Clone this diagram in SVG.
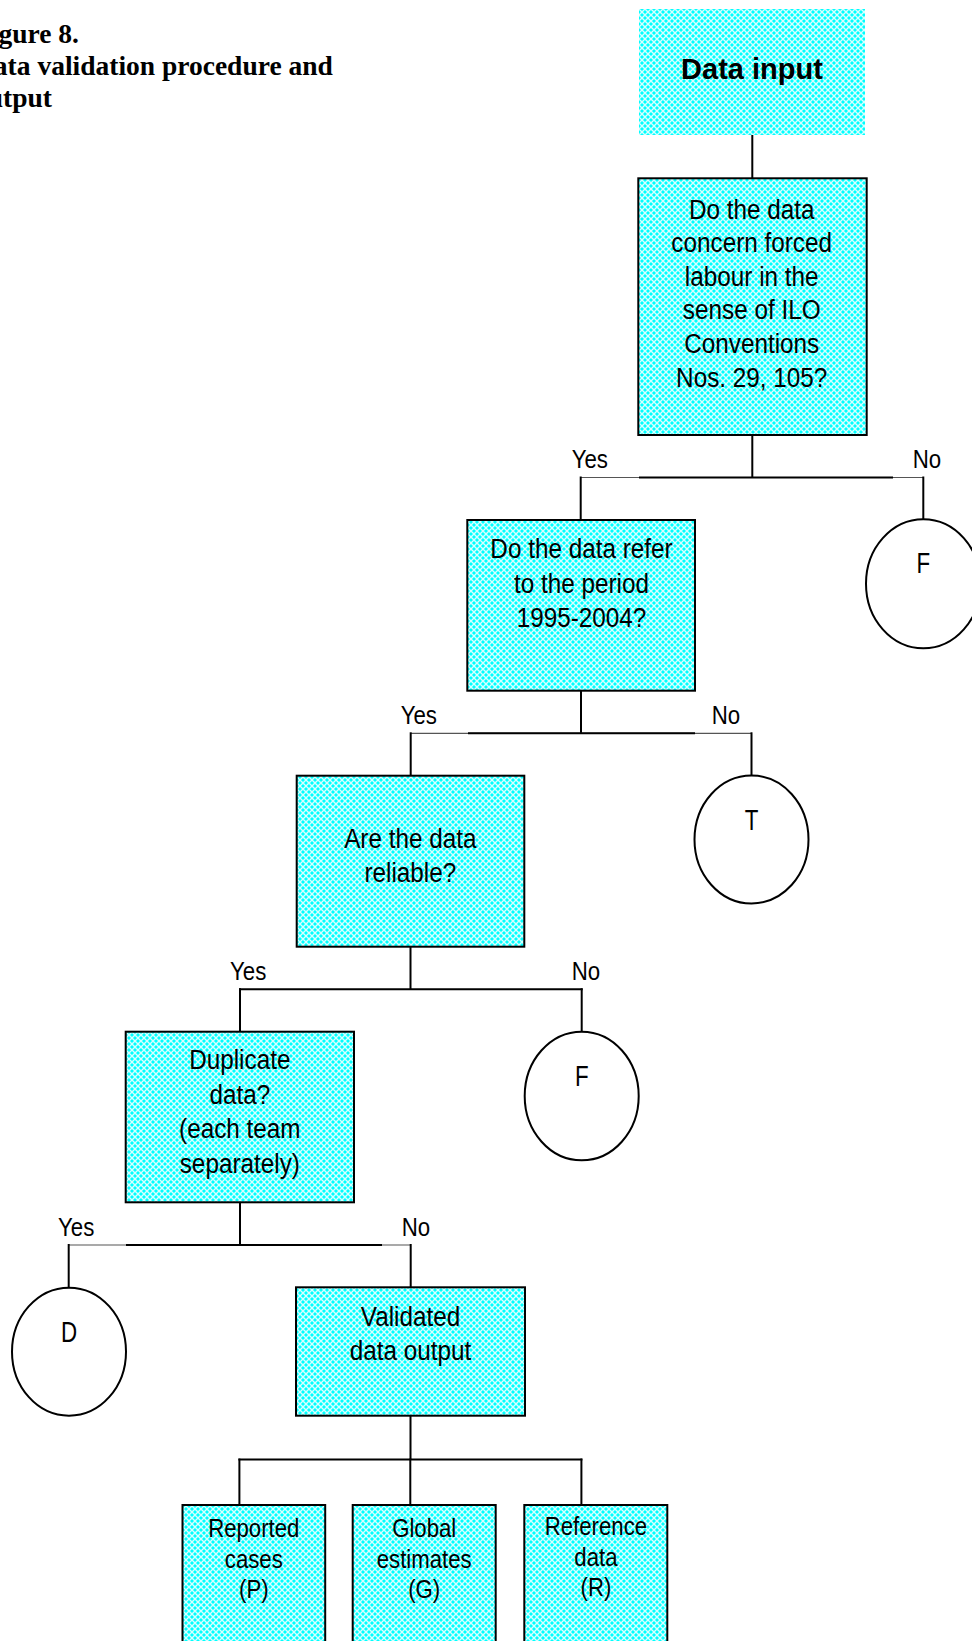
<svg xmlns="http://www.w3.org/2000/svg" width="972" height="1641" viewBox="0 0 972 1641">
<style>
.t{font-family:"Liberation Sans",Arial,sans-serif;font-size:27px;fill:#000;text-anchor:middle}
.s{font-family:"Liberation Sans",Arial,sans-serif;font-size:25.5px;fill:#000;text-anchor:middle}
.l{font-family:"Liberation Sans",Arial,sans-serif;font-size:25px;fill:#000}
.c{font-family:"Liberation Sans",Arial,sans-serif;font-size:29px;fill:#000;text-anchor:middle}
.title{font-family:"Liberation Serif","Times New Roman",serif;font-size:27.5px;font-weight:bold;fill:#000}
.box{fill:url(#hatch);stroke:#000;stroke-width:2}
.circ{fill:#fff;stroke:#000;stroke-width:2}
.k{stroke:#000;stroke-width:2;fill:none}
.thin{stroke:#555;stroke-width:1.2;fill:none}
</style>
<defs>
<pattern id="hatch" patternUnits="userSpaceOnUse" width="6" height="6">
<rect width="6" height="6" fill="#00FFFF"/>
<path d="M0,0 L6,6 M6,0 L0,6" stroke="#ffffff" stroke-width="1.4" stroke-opacity="0.85"/>
</pattern>
</defs>
<rect width="972" height="1641" fill="#fff"/>
<g id="title">
<text class="title" x="-26" y="43.3">Figure 8.</text>
<text class="title" x="-26" y="75">Data validation procedure and</text>
<text class="title" x="-26" y="107.3">output</text>
</g>
<g id="connectors">
<line class="k" x1="752.3" y1="135" x2="752.3" y2="178.3"/>
<line class="k" x1="752.3" y1="435" x2="752.3" y2="477.5"/>
<line class="thin" x1="580.7" y1="477.5" x2="923.3" y2="477.5"/>
<line class="k" x1="639" y1="477.5" x2="893" y2="477.5"/>
<line class="k" x1="580.7" y1="476.5" x2="580.7" y2="520"/>
<line class="k" x1="923.3" y1="476.5" x2="923.3" y2="519.3"/>
<line class="k" x1="581" y1="690.7" x2="581" y2="733.3"/>
<line class="thin" x1="410.7" y1="733.3" x2="751.5" y2="733.3"/>
<line class="k" x1="468" y1="733.3" x2="695" y2="733.3"/>
<line class="k" x1="410.7" y1="732.3" x2="410.7" y2="775.7"/>
<line class="k" x1="751.5" y1="732.3" x2="751.5" y2="775.5"/>
<line class="k" x1="410.5" y1="946.7" x2="410.5" y2="989.3"/>
<line class="k" x1="239" y1="989.3" x2="582.7" y2="989.3"/>
<line class="k" x1="240" y1="988.3" x2="240" y2="1031.7"/>
<line class="k" x1="581.7" y1="988.3" x2="581.7" y2="1031.7"/>
<line class="k" x1="240" y1="1202.3" x2="240" y2="1245"/>
<line class="thin" x1="68.7" y1="1245" x2="410.7" y2="1245"/>
<line class="k" x1="126" y1="1245" x2="382" y2="1245"/>
<line class="k" x1="68.7" y1="1244" x2="68.7" y2="1287.7"/>
<line class="k" x1="410.7" y1="1244" x2="410.7" y2="1287.3"/>
<line class="k" x1="410.5" y1="1415.7" x2="410.5" y2="1459.6"/>
<line class="k" x1="238.4" y1="1459.6" x2="582.4" y2="1459.6"/>
<line class="k" x1="239.4" y1="1458.6" x2="239.4" y2="1505"/>
<line class="k" x1="410.3" y1="1458.6" x2="410.3" y2="1505"/>
<line class="k" x1="581.4" y1="1458.6" x2="581.4" y2="1505"/>
</g>
<g id="labels">
<text class="l" transform="translate(571.7,468) scale(0.89,1)">Yes</text>
<text class="l" transform="translate(912.7,468) scale(0.89,1)">No</text>
<text class="l" transform="translate(400.7,724.3) scale(0.89,1)">Yes</text>
<text class="l" transform="translate(711.8,724.3) scale(0.89,1)">No</text>
<text class="l" transform="translate(230,980) scale(0.89,1)">Yes</text>
<text class="l" transform="translate(571.7,980) scale(0.89,1)">No</text>
<text class="l" transform="translate(58,1235.7) scale(0.89,1)">Yes</text>
<text class="l" transform="translate(401.7,1235.5) scale(0.89,1)">No</text>
</g>
<g id="data-input">
<rect x="639" y="9" width="226" height="126" fill="url(#hatch)"/>
<text x="752" y="79" font-family="Liberation Sans, Arial, sans-serif" font-size="29" font-weight="bold" text-anchor="middle">Data input</text>
</g>
<g id="q1">
<rect class="box" x="638.3" y="178.3" width="228.4" height="256.7"/>
<text class="t" transform="translate(751.7,218.5) scale(0.9,1)">Do the data</text>
<text class="t" transform="translate(751.7,252.1) scale(0.9,1)">concern forced</text>
<text class="t" transform="translate(751.7,285.7) scale(0.9,1)">labour in the</text>
<text class="t" transform="translate(751.7,319.3) scale(0.9,1)">sense of ILO</text>
<text class="t" transform="translate(751.7,352.9) scale(0.9,1)">Conventions</text>
<text class="t" transform="translate(751.7,386.5) scale(0.9,1)">Nos. 29, 105?</text>
</g>
<g id="f1">
<ellipse class="circ" cx="923.3" cy="583.8" rx="57.3" ry="64.5"/>
<text class="c" transform="translate(923.3,573) scale(0.77,1)">F</text>
</g>
<g id="q2">
<rect class="box" x="467.3" y="520" width="227.7" height="170.7"/>
<text class="t" transform="translate(581.5,558.3) scale(0.9,1)">Do the data refer</text>
<text class="t" transform="translate(581.5,592.7) scale(0.9,1)">to the period</text>
<text class="t" transform="translate(581.5,626.7) scale(0.9,1)">1995-2004?</text>
</g>
<g id="t1">
<ellipse class="circ" cx="751.5" cy="839.5" rx="57" ry="64"/>
<text class="c" transform="translate(751.5,829.5) scale(0.77,1)">T</text>
</g>
<g id="q3">
<rect class="box" x="296.7" y="775.7" width="227.6" height="171"/>
<text class="t" transform="translate(410.3,848.3) scale(0.9,1)">Are the data</text>
<text class="t" transform="translate(410.3,881.7) scale(0.9,1)">reliable?</text>
</g>
<g id="f2">
<ellipse class="circ" cx="581.7" cy="1096" rx="57" ry="64.3"/>
<text class="c" transform="translate(581.7,1085.7) scale(0.77,1)">F</text>
</g>
<g id="q4">
<rect class="box" x="125.7" y="1031.7" width="228.3" height="170.6"/>
<text class="t" transform="translate(239.8,1069.3) scale(0.9,1)">Duplicate</text>
<text class="t" transform="translate(239.8,1104) scale(0.9,1)">data?</text>
<text class="t" transform="translate(239.8,1138.3) scale(0.9,1)">(each team</text>
<text class="t" transform="translate(239.8,1172.7) scale(0.9,1)">separately)</text>
</g>
<g id="d1">
<ellipse class="circ" cx="69" cy="1351.7" rx="57" ry="64"/>
<text class="c" transform="translate(69,1341.7) scale(0.77,1)">D</text>
</g>
<g id="validated">
<rect class="box" x="296" y="1287.3" width="229" height="128.4"/>
<text class="t" transform="translate(410.5,1325.7) scale(0.9,1)">Validated</text>
<text class="t" transform="translate(410.5,1360) scale(0.9,1)">data output</text>
</g>
<g id="reported">
<rect class="box" x="182.5" y="1505" width="142.7" height="160"/>
<text class="s" transform="translate(253.8,1537) scale(0.87,1)">Reported</text>
<text class="s" transform="translate(253.8,1568) scale(0.87,1)">cases</text>
<text class="s" transform="translate(253.8,1598) scale(0.87,1)">(P)</text>
</g>
<g id="global">
<rect class="box" x="352.7" y="1505" width="143" height="160"/>
<text class="s" transform="translate(424.2,1537) scale(0.87,1)">Global</text>
<text class="s" transform="translate(424.2,1568) scale(0.87,1)">estimates</text>
<text class="s" transform="translate(424.2,1598) scale(0.87,1)">(G)</text>
</g>
<g id="reference">
<rect class="box" x="524.3" y="1505" width="143" height="160"/>
<text class="s" transform="translate(595.9,1534.5) scale(0.87,1)">Reference</text>
<text class="s" transform="translate(595.9,1565.5) scale(0.87,1)">data</text>
<text class="s" transform="translate(595.9,1595.5) scale(0.87,1)">(R)</text>
</g>
</svg>
